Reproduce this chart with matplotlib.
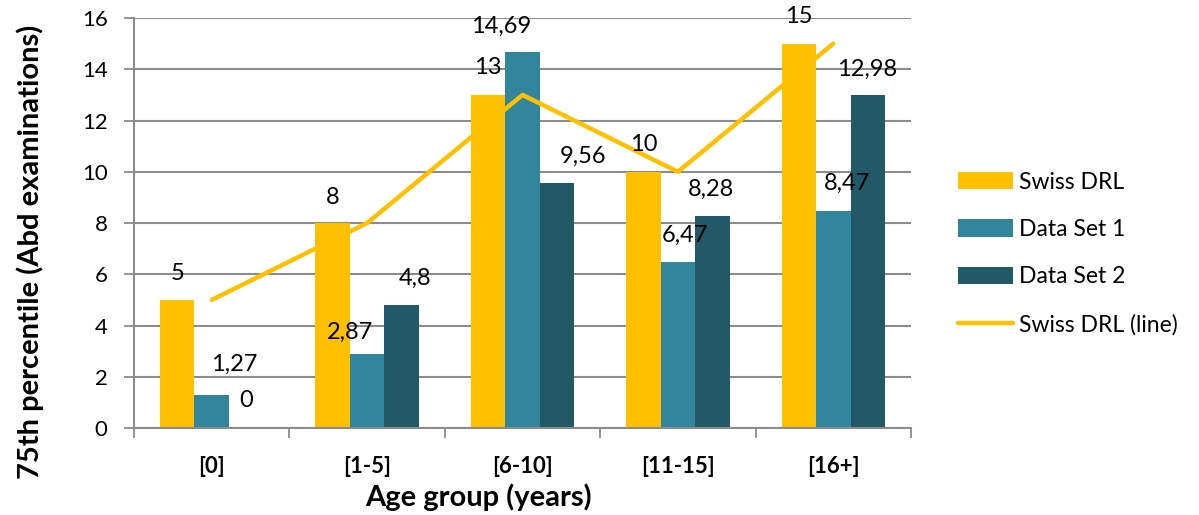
import matplotlib
matplotlib.use("Agg")
import matplotlib.pyplot as plt
import numpy as np

categories = ["[0]", "[1-5]", "[6-10]", "[11-15]", "[16+]"]
swiss_drl = [5, 8, 13, 10, 15]
data_set_1 = [1.27, 2.87, 14.69, 6.47, 8.47]
data_set_2 = [0, 4.8, 9.56, 8.28, 12.98]
y_ticks = [0, 2, 4, 6, 8, 10, 12, 14, 16]

# label offsets in pixels (dx, dy) relative to bar top centre (as in the reference)
off_swiss = [(0, 26), (0, 26), (0, 27), (0, 27), (0, 27)]
off_ds1 = [(22, 31), (-17, 22), (-21, 25), (7, 27), (14, 28)]
off_ds2 = [(0, 28), (13, 27), (26, 27), (-1, 27), (-1, 26)]

C_SWISS = "#FFC000"
C_DS1 = "#31859C"
C_DS2 = "#215968"
GRID = "#8C8C8C"

plt.rcParams['font.family'] = ['Lato', 'DejaVu Sans']

fig = plt.figure(figsize=(11.99, 5.15), dpi=100)
ax = fig.add_axes([0.1118, 0.1689, 0.6480, 0.7961])

x = np.arange(len(categories))
w = 0.222

b0 = ax.bar(x - w, swiss_drl, w, color=C_SWISS, label="Swiss DRL", zorder=2)
b1 = ax.bar(x, data_set_1, w, color=C_DS1, label="Data Set 1", zorder=2)
b2 = ax.bar(x + w, data_set_2, w, color=C_DS2, label="Data Set 2", zorder=2)
ln, = ax.plot(x, swiss_drl, color=C_SWISS, lw=3.2, solid_capstyle='round',
              label="Swiss DRL (line)", zorder=3)

def fmt(v):
    return ("%g" % v).replace(".", ",")

for bars, vals, offs in [(b0, swiss_drl, off_swiss), (b1, data_set_1, off_ds1), (b2, data_set_2, off_ds2)]:
    for r, v, (dx, dy) in zip(bars, vals, offs):
        ax.annotate(fmt(v), (r.get_x() + r.get_width() / 2, v),
                    xytext=(dx, dy), textcoords='offset pixels',
                    ha='center', va='center', fontsize=17, color='black', zorder=4)

ax.set_xlim(-0.5, len(categories) - 0.5)
ax.set_ylim(0, 16)
ax.set_yticks(y_ticks)
ax.set_yticklabels([str(t) for t in y_ticks], fontsize=16)
ax.set_xticks(x)
ax.set_xticklabels(categories, fontsize=16, fontweight='bold')
ax.set_xticks(np.arange(len(categories) + 1) - 0.5, minor=True)
ax.tick_params(axis='x', which='major', length=0, pad=20)
ax.tick_params(axis='x', which='minor', length=7, width=1.3, color=GRID, direction='out')
ax.tick_params(axis='y', length=7, width=1.3, color=GRID, pad=12)

ax.grid(axis='y', color=GRID, lw=1.5, zorder=0)
ax.set_axisbelow(True)
for s in ['top', 'right']:
    ax.spines[s].set_visible(False)
for s in ['left', 'bottom']:
    ax.spines[s].set_color(GRID)
    ax.spines[s].set_linewidth(1.5)

ax.set_ylabel("75th percentile (Abd examinations)", fontsize=21, fontweight='bold')
ax.yaxis.label.set_va('center')
ax.yaxis.set_label_coords(-0.134, 0.43)
ax.set_xlabel("Age group (years)", fontsize=21, fontweight='bold')
ax.xaxis.label.set_va('center')
ax.xaxis.set_label_coords(0.443, -0.168)

leg = fig.legend(handles=[b0, b1, b2, ln], loc='center left', bbox_to_anchor=(0.782, 0.508),
                 frameon=False, fontsize=16.5, handlelength=2.4, handleheight=0.8,
                 labelspacing=1.15, handletextpad=0.25)

fig.savefig("out.png", dpi=100)
